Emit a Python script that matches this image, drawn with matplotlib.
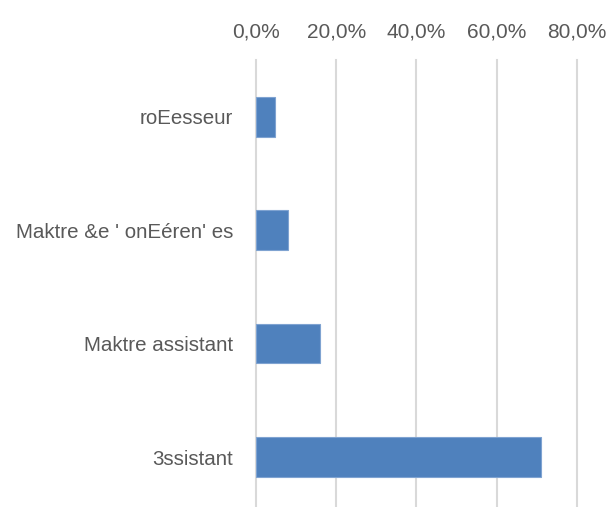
import matplotlib.pyplot as plt
from matplotlib.ticker import FuncFormatter

plt.rcParams['font.family'] = ['Liberation Sans', 'DejaVu Sans']

# Category labels (top to bottom) and their shares in percent
categories = ["roEesseur", "Maktre &e ' onEéren' es", "Maktre assistant", "3ssistant"]
shares = [4.7, 8.1, 16.0, 71.1]
x_ticks = [0, 20, 40, 60, 80]

W, H = 611, 507
fig = plt.figure(figsize=(W / 100, H / 100), dpi=100)

# axes placed in pixel terms: left edge at 0 %, top at y=60
left, right = 256, 585
top, bottom = 60, 507
ax = fig.add_axes([left / W, (H - bottom) / H, (right - left) / W, (bottom - top) / H])

pos = list(range(len(categories)))
ax.barh(pos, shares, height=0.35, color='#4f81bd', edgecolor='#7fa3d1',
        linewidth=0.8, zorder=3)

ax.set_xlim(0, 82)
ax.set_ylim(3.44, -0.5)
ax.set_xticks(x_ticks)
ax.xaxis.set_major_formatter(FuncFormatter(lambda v, p: f"{v:.1f}%".replace('.', ',')))
ax.xaxis.tick_top()
ax.tick_params(axis='x', length=0, pad=13, labelsize=15, labelcolor='#595959')

ax.set_yticks(pos)
ax.set_yticklabels(categories)
ax.tick_params(axis='y', length=0, pad=16.5, labelsize=14.8, labelcolor='#595959')

ax.grid(axis='x', color='#d9d9d9', linewidth=1.5, zorder=0)
for gl in ax.get_xgridlines():
    gl.set_clip_on(False)
for s in ax.spines.values():
    s.set_visible(False)

fig.savefig('out.png', dpi=100)
